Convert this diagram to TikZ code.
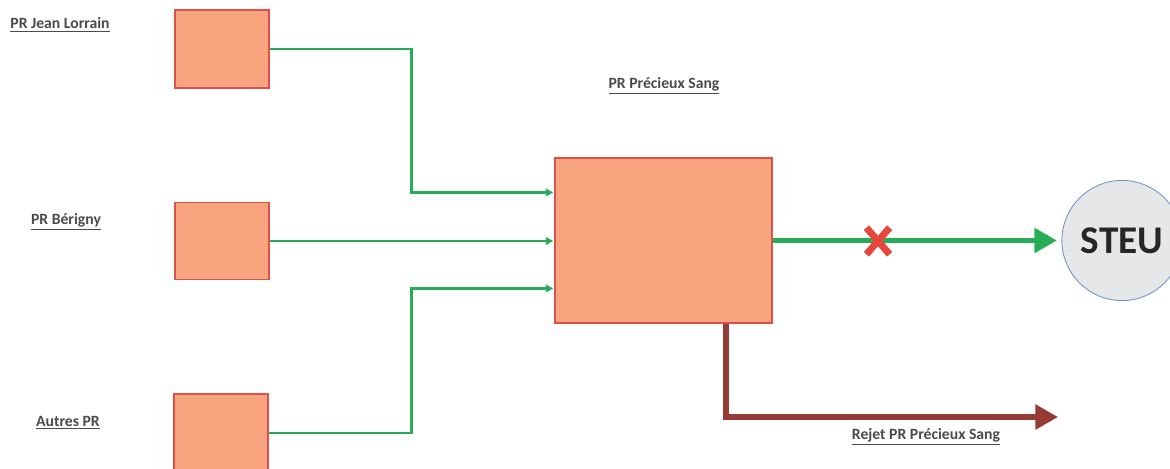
\documentclass[tikz,border=0pt]{standalone}
\usepackage{fontspec}
\setmainfont{Carlito}
\usetikzlibrary{arrows.meta}
\usetikzlibrary{calc}
\usetikzlibrary{shapes.misc}
\definecolor{boxfill}{HTML}{F7A47F}
\definecolor{boxline}{HTML}{E0504A}
\definecolor{flowgreen}{HTML}{26AD55}
\definecolor{rejetred}{HTML}{963A36}
\definecolor{steufill}{HTML}{E6E7E9}
\definecolor{steuline}{HTML}{6E9BCB}
\definecolor{labelgray}{HTML}{4A4A4A}
\definecolor{crossred}{HTML}{E8463C}

\begin{document}
\begin{tikzpicture}[x=0.0233cm, y=-0.0233cm,
  pr/.style={draw=boxline, fill=boxfill, line width=0.8pt, inner sep=0pt},
  prlabel/.style={text=labelgray, font=\bfseries\fontsize{10.4}{12}\selectfont},
  flow/.style={draw=flowgreen, line width=1.7pt, -{Triangle[length=5pt,width=5pt]}},
  mainflow/.style={draw=flowgreen, line width=3.4pt, -{Triangle[length=15pt,width=16pt]}},
  rejetflow/.style={draw=rejetred, line width=3.4pt, -{Triangle[length=15pt,width=16pt]}}]
\useasboundingbox (0,0) rectangle (1170,468);
\path[clip] (0,0) rectangle (1170,468);

% stations
\node[pr, minimum width=2.19cm, minimum height=1.82cm] (jl) at (222,49) {};
\node[pr, minimum width=2.19cm, minimum height=1.80cm] (be) at (222,241) {};
\node[pr, minimum width=2.19cm, minimum height=1.82cm] (au) at (221,433) {};
\node[pr, minimum width=5.06cm, minimum height=3.84cm] (ps) at (663.5,240.5) {};
\node[circle, draw=steuline, fill=steufill, line width=0.6pt, minimum size=2.8cm,
  font=\bfseries\fontsize{26}{30}\selectfont, text=black!85] (steu) at (1122,240.5) {STEU};

% labels
\node[prlabel] (jlL) at (60,25) {\underline{PR Jean Lorrain}};
\node[prlabel] (beL) at (66,222) {\underline{PR Bérigny}};
\node[prlabel] (auL) at (68,423) {\underline{Autres PR}};
\node[prlabel] (psL) at (664,86) {\underline{PR Précieux Sang}};

% arrivals
\draw[flow] (jl.east) -- ++(142,0) |- ($(ps.west)+(-1,-48)$);
\draw[flow] (be.east) -- ($(be.east -| ps.west)+(-1,0)$);
\draw[flow] (au.east) -- ++(143,0) |- ($(ps.west)+(-1,48)$);

% towards STEU, cut
\draw[mainflow, shorten >=3pt] (ps.east) -- (steu.west);
\node[cross out, draw=crossred, line width=4.6pt, minimum width=0.38cm, minimum height=0.46cm,
  inner sep=0pt] (cut) at (878,241) {};

% discharge
\coordinate (rejetend) at (1058,417);
\draw[rejetflow] ($(ps.south)+(62.5,0)$) |- (rejetend);
\node[prlabel] (rejetL) at (926,437) {\underline{Rejet PR Précieux Sang}};
\end{tikzpicture}
\end{document}
